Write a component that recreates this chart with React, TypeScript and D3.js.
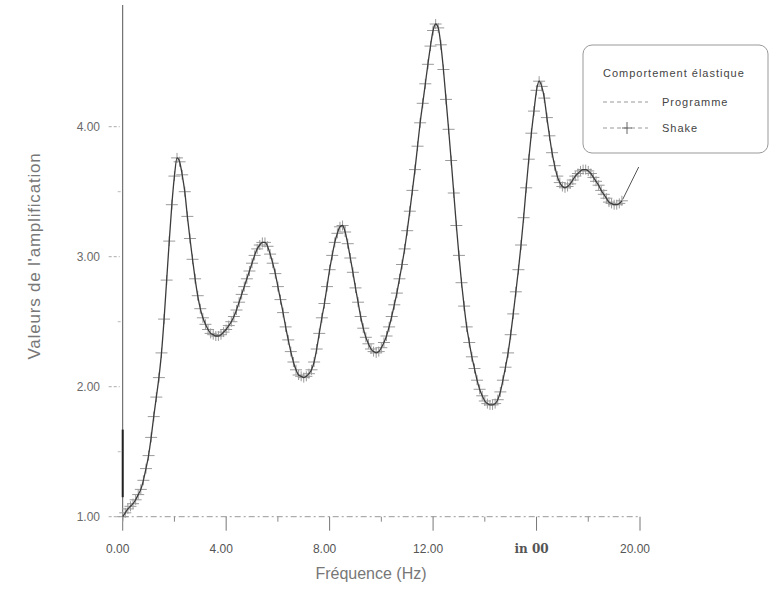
import React from "react";
import * as d3 from "d3";

const W = 772;
const H = 590;

// Frequency sampling of the Shake series (Hz)
const freqStart = 0;
const freqStep = 0.1;

// Shake amplification values, read at every 0.1 Hz from 0.0 to 19.3 Hz
const shakeValues = [
  1.0, 1.03, 1.06, 1.08, 1.1, 1.13, 1.17, 1.21, 1.28, 1.37,
  1.47, 1.61, 1.77, 1.92, 2.07, 2.26, 2.52, 2.82, 3.12, 3.4,
  3.62, 3.76, 3.73, 3.63, 3.5, 3.31, 3.14, 2.98, 2.83, 2.7,
  2.6, 2.53, 2.48, 2.44, 2.41, 2.4, 2.39, 2.39, 2.4, 2.42,
  2.44, 2.47, 2.5, 2.54, 2.59, 2.65, 2.71, 2.77, 2.83, 2.89,
  2.95, 3.01, 3.06, 3.09, 3.11, 3.11, 3.08, 3.02, 2.95, 2.87,
  2.77, 2.67, 2.57, 2.46, 2.36, 2.27, 2.19, 2.13, 2.09, 2.08,
  2.07, 2.08, 2.1, 2.13, 2.19, 2.29, 2.41, 2.53, 2.64, 2.77,
  2.9, 3.01, 3.11, 3.18, 3.23, 3.24, 3.19, 3.1, 2.99, 2.88,
  2.76, 2.65, 2.54, 2.45, 2.38, 2.33, 2.29, 2.27, 2.26, 2.27,
  2.3, 2.34, 2.39, 2.46, 2.54, 2.63, 2.72, 2.83, 2.94, 3.06,
  3.2, 3.35, 3.51, 3.67, 3.85, 4.03, 4.18, 4.33, 4.48, 4.62,
  4.74, 4.79, 4.76, 4.63, 4.44, 4.21, 3.98, 3.74, 3.49, 3.24,
  3.01, 2.8, 2.62, 2.46, 2.34, 2.23, 2.14, 2.05, 1.98, 1.93,
  1.89, 1.87, 1.86, 1.86, 1.87, 1.9, 1.96, 2.05, 2.15, 2.26,
  2.4, 2.56, 2.73, 2.9, 3.09, 3.3, 3.53, 3.75, 3.95, 4.12,
  4.28, 4.35, 4.31, 4.22, 4.07, 3.93, 3.8, 3.7, 3.62, 3.57,
  3.54, 3.53, 3.54, 3.56, 3.59, 3.62, 3.64, 3.66, 3.67, 3.67,
  3.66, 3.64, 3.61, 3.58, 3.55, 3.51, 3.48, 3.45, 3.42, 3.41,
  3.4, 3.4, 3.41, 3.43,
];

// Pointer stroke from the curve end toward the legend
const pointerFreq = [19.33, 19.95];
const pointerValues = [3.44, 3.69];

// Dark segment drawn on the y axis at 0 Hz
const axisMarkValues = [1.15, 1.67];

const xTicksMajor = [0, 4, 8, 12, 16, 20];
const xTicksMinor = [2, 6, 10, 14, 18];
const xTickLabels = ["0.00", "4.00", "8.00", "12.00", "in 00", "20.00"];
const yTicksMajor = [1, 2, 3, 4];
const yTicksMinor = [1.5, 2.5, 3.5];
const yTickLabels = ["1.00", "2.00", "3.00", "4.00"];

const legendTitle = "Comportement élastique";
const seriesNames = ["Programme", "Shake"];

export default function App() {
  const x = d3.scaleLinear().domain([0, 20]).range([122.7, 640]);
  const y = d3.scaleLinear().domain([1, 4]).range([516.7, 126.7]);

  const pts = shakeValues.map((v, i) => [freqStart + i * freqStep, v] as [number, number]);
  const line = d3
    .line<[number, number]>()
    .x((d) => x(d[0]))
    .y((d) => y(d[1]))
    .curve(d3.curveMonotoneX);
  const path = line(pts) || "";

  const pointer = d3
    .line<[number, number]>()
    .x((d) => x(d[0]))
    .y((d) => y(d[1]))(pointerFreq.map((f, i) => [f, pointerValues[i]] as [number, number])) || "";

  const font = "'Liberation Sans', Arial, sans-serif";
  const axisY0 = y(1);

  return (
    <svg
      width={W}
      height={H}
      style={{ position: "absolute", left: 0, top: 0, background: "#fff" }}
      fontFamily={font}
    >
      <rect x={0} y={0} width={W} height={H} fill="#fff" />
      {/* y axis */}
      <line x1={x(0)} x2={x(0)} y1={5} y2={axisY0 + 4} stroke="#555" strokeWidth={1} />
      <line
        x1={x(0)}
        x2={x(0)}
        y1={y(axisMarkValues[0])}
        y2={y(axisMarkValues[1])}
        stroke="#222"
        strokeWidth={2}
      />
      {yTicksMajor.map((t, i) => (
        <g key={"yt" + t}>
          <line x1={x(0) - 14} x2={x(0) - 3} y1={y(t)} y2={y(t)} stroke="#aaa" strokeDasharray="3,2" />
          <text x={100} y={y(t) + 4} fontSize={12} fill="#6a6a6a" textAnchor="end">
            {yTickLabels[i]}
          </text>
        </g>
      ))}
      {yTicksMinor.map((t) => (
        <line key={"ym" + t} x1={x(0) - 5} x2={x(0) - 2} y1={y(t)} y2={y(t)} stroke="#bbb" />
      ))}
      {/* x axis */}
      <line
        x1={x(0)}
        x2={x(20)}
        y1={axisY0}
        y2={axisY0}
        stroke="#999"
        strokeDasharray="6,3,2,3"
        strokeWidth={1}
      />
      {xTicksMajor.map((t, i) => (
        <g key={"xt" + t}>
          <line x1={x(t)} x2={x(t)} y1={axisY0} y2={axisY0 + 14} stroke="#777" />
          <text
            x={x(t) - 5}
            y={553}
            fontSize={12}
            fill="#555"
            textAnchor="middle"
            fontFamily={xTickLabels[i] === "in 00" ? "'DejaVu Serif', serif" : font}
            fontWeight={xTickLabels[i] === "in 00" ? "bold" : "normal"}
          >
            {xTickLabels[i]}
          </text>
        </g>
      ))}
      {xTicksMinor.map((t) => (
        <line key={"xm" + t} x1={x(t)} x2={x(t)} y1={axisY0} y2={axisY0 + 5} stroke="#888" />
      ))}
      {/* axis titles */}
      <text x={371} y={579} fontSize={16} fill="#777" textAnchor="middle">
        Fréquence (Hz)
      </text>
      <text
        transform={`translate(40,256) rotate(-90)`}
        fontSize={17}
        letterSpacing={0.8}
        fill="#777"
        textAnchor="middle"
      >
        Valeurs de l'amplification
      </text>
      {/* Shake markers */}
      {pts.map((d, i) => (
        <g key={"m" + i} stroke="#9a9a9a" strokeWidth={1}>
          <line x1={x(d[0]) - 6} x2={x(d[0]) + 6} y1={y(d[1])} y2={y(d[1])} />
          <line x1={x(d[0])} x2={x(d[0])} y1={y(d[1]) - 5} y2={y(d[1]) + 5} />
        </g>
      ))}
      {/* Programme / Shake line */}
      <path d={path} fill="none" stroke="#3c3c3c" strokeWidth={1.3} />
      <path d={pointer} fill="none" stroke="#555" strokeWidth={1} />
      {/* legend */}
      <rect x={583} y={45} width={185} height={108} rx={9} ry={9} fill="#fff" stroke="#999" strokeWidth={1} />
      <text x={603} y={77} fontSize={11} letterSpacing={1} fill="#444">
        {legendTitle}
      </text>
      <line x1={603} x2={648} y1={102} y2={102} stroke="#999" strokeDasharray="4,3" />
      <text x={662} y={106} fontSize={11} letterSpacing={1} fill="#444">
        {seriesNames[0]}
      </text>
      <line x1={603} x2={648} y1={128} y2={128} stroke="#999" strokeDasharray="4,3" />
      <line x1={627} x2={627} y1={122} y2={134} stroke="#666" />
      <line x1={622} x2={632} y1={128} y2={128} stroke="#666" />
      <text x={662} y={132} fontSize={11} letterSpacing={1} fill="#444">
        {seriesNames[1]}
      </text>
    </svg>
  );
}
